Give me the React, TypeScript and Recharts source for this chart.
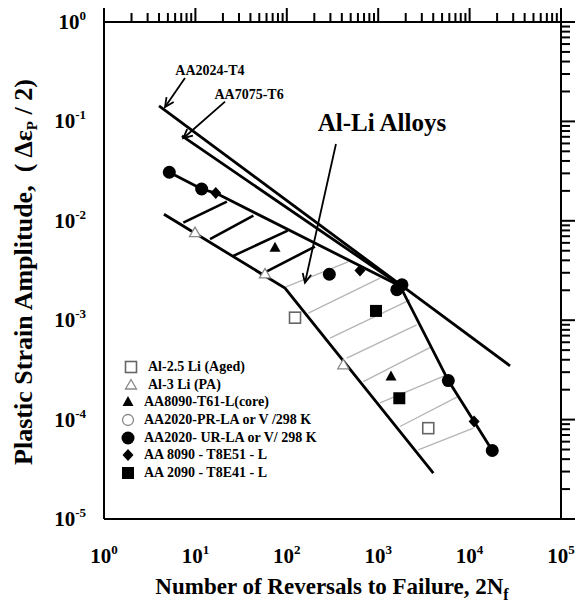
// Plastic strain amplitude vs. reversals to failure (Coffin-Manson) for
// Al-Li alloys compared with AA2024-T4 and AA7075-T6. Log-log axes with
// ticks on all four sides, hatched scatter band and annotation arrows.

import { ComposedChart, Line, Scatter, XAxis, YAxis, ReferenceLine, Legend } from 'recharts'

const FONT = '"Liberation Serif", "Times New Roman", serif'

// ---- axis ticks -------------------------------------------------------
const X_DECADES = [1, 10, 100, 1000, 10000, 100000]
const Y_DECADES = [1e-5, 1e-4, 1e-3, 1e-2, 1e-1, 1]
const MINOR_STEPS = [2, 3, 4, 5, 6, 7, 8, 9]

// ---- reference lines (x = 2Nf, y = Δεp/2) -----------------------------
const AA2024_T4 = [
  { x: 4.0, y: 0.143 },
  { x: 27700, y: 3.47e-4 },
]
const AA7075_T6 = [
  { x: 7.13, y: 0.0714 },
  { x: 1800, y: 2.2e-3 },
]
// upper edge of the Al-Li scatter band (goes through the UR-LA points)
const BAND_UPPER = [
  { x: 5.18, y: 0.0308 },
  { x: 11.7, y: 0.0209 },
  { x: 16.7, y: 0.019 },
  { x: 1733, y: 2.21e-3 },
  { x: 5850, y: 2.47e-4 },
  { x: 11200, y: 9.57e-5 },
  { x: 17700, y: 4.89e-5 },
]
const BAND_LOWER = [
  { x: 4.53, y: 0.01165 },
  { x: 95.5, y: 2.1e-3 },
  { x: 4010, y: 2.9e-5 },
]

// hatching inside the band: thick black (left) and thin grey (right)
const HATCH_BLACK = [
  [{ x: 7.38, y: 9.59e-3 }, { x: 22.1, y: 0.0156 }],
  [{ x: 14.45, y: 6.53e-3 }, { x: 43.1, y: 0.01127 }],
  [{ x: 26.0, y: 4.44e-3 }, { x: 102.3, y: 7.96e-3 }],
  [{ x: 50.9, y: 2.86e-3 }, { x: 203, y: 5.5e-3 }],
]
const HATCH_GREY = [
  [{ x: 98, y: 2.16e-3 }, { x: 468, y: 3.86e-3 }],
  [{ x: 172, y: 1.18e-3 }, { x: 1047, y: 2.65e-3 }],
  [{ x: 297, y: 6.61e-4 }, { x: 2228, y: 1.6e-3 }],
  [{ x: 452, y: 4.15e-4 }, { x: 2637, y: 8.98e-4 }],
  [{ x: 687, y: 2.41e-4 }, { x: 3849, y: 5.43e-4 }],
  [{ x: 1047, y: 1.47e-4 }, { x: 5615, y: 2.82e-4 }],
  [{ x: 1733, y: 8.53e-5 }, { x: 7521, y: 1.71e-4 }],
  [{ x: 2748, y: 4.97e-5 }, { x: 10990, y: 8.21e-5 }],
]

// ---- experimental points ----------------------------------------------
const AL25LI_AGED = [
  { x: 123, y: 1.06e-3 },
  { x: 3530, y: 8.2e-5 },
]
const AL3LI_PA = [
  { x: 9.9, y: 7.6e-3 },
  { x: 57.7, y: 2.92e-3 },
  { x: 415, y: 3.56e-4 },
]
const AA8090_T61 = [
  { x: 74.3, y: 5.37e-3 },
  { x: 1380, y: 2.71e-4 },
]
const AA2020_UR = [
  { x: 5.18, y: 0.0308 },
  { x: 11.7, y: 0.0209 },
  { x: 292, y: 2.9e-3 },
  { x: 1600, y: 2.03e-3 },
  { x: 1820, y: 2.27e-3 },
  { x: 5850, y: 2.47e-4 },
  { x: 17700, y: 4.89e-5 },
]
const AA8090_T8E51 = [
  { x: 16.7, y: 0.019 },
  { x: 632, y: 3.16e-3 },
  { x: 11200, y: 9.57e-5 },
]
const AA2090_T8E41 = [
  { x: 946, y: 1.24e-3 },
  { x: 1702, y: 1.64e-4 },
]

// ---- annotation arrows (start -> tip) ---------------------------------
const ARROW_2024 = [{ x: 7.69, y: 0.2735 }, { x: 4.65, y: 0.1397 }]
const ARROW_7075 = [{ x: 21.1, y: 0.158 }, { x: 7.37, y: 0.0677 }]
const ARROW_ALLI = [{ x: 345, y: 0.0593 }, { x: 158, y: 2.38e-3 }]

const LEGEND_ITEMS = [
  { name: 'Al-2.5 Li (Aged)', kind: 'openSquare' },
  { name: 'Al-3 Li (PA)', kind: 'openTriangle' },
  { name: 'AA8090-T61-L(core)', kind: 'triangle' },
  { name: 'AA2020-PR-LA or V /298 K', kind: 'openCircle' },
  { name: 'AA2020- UR-LA or V/ 298 K', kind: 'circle' },
  { name: 'AA 8090 - T8E51 - L', kind: 'diamond' },
  { name: 'AA 2090 - T8E41 - L', kind: 'square' },
]

function buildTicks(decades: number[]): number[] {
  const out: number[] = []
  decades.forEach((d, i) => {
    out.push(d)
    if (i < decades.length - 1) MINOR_STEPS.forEach((m) => out.push(m * d))
  })
  return out
}
const X_TICKS = buildTicks(X_DECADES)
const Y_TICKS = buildTicks(Y_DECADES)

function exponent(v: number): number | null {
  const e = Math.log10(v)
  const r = Math.round(e)
  return Math.abs(e - r) < 1e-6 ? r : null
}

function tickLen(v: number): number {
  return exponent(v) === null ? 9 : 14
}

function Mark({ kind, cx, cy }: { kind: string; cx: number; cy: number }) {
  switch (kind) {
    case 'circle':
      return <circle cx={cx} cy={cy} r={6.5} fill="#000" />
    case 'openCircle':
      return <circle cx={cx} cy={cy} r={5.5} fill="#fff" stroke="#888" strokeWidth={1.3} />
    case 'square':
      return <rect x={cx - 6} y={cy - 6} width={12} height={12} fill="#000" />
    case 'openSquare':
      return <rect x={cx - 5.5} y={cy - 5.5} width={11} height={11} fill="#fff" stroke="#666" strokeWidth={1.6} />
    case 'triangle':
      return <polygon points={`${cx},${cy - 6} ${cx + 5.5},${cy + 4} ${cx - 5.5},${cy + 4}`} fill="#000" />
    case 'openTriangle':
      return (
        <polygon
          points={`${cx},${cy - 5.5} ${cx + 5.5},${cy + 4} ${cx - 5.5},${cy + 4}`}
          fill="#fff"
          stroke="#888"
          strokeWidth={1.3}
        />
      )
    case 'diamond':
      return <polygon points={`${cx},${cy - 6} ${cx + 5.5},${cy} ${cx},${cy + 6} ${cx - 5.5},${cy}`} fill="#000" />
    default:
      return null
  }
}

const shapeOf = (kind: string) => (p: any) => <Mark kind={kind} cx={p.cx} cy={p.cy} />

function TickLabel({ x, y, e, anchor }: { x: number; y: number; e: number; anchor: 'middle' | 'end' }) {
  return (
    <text x={x} y={y} textAnchor={anchor} fontFamily={FONT} fontWeight="bold" fontSize={21} fill="#000">
      10
      <tspan dy={-9} fontSize={13}>
        {String(e)}
      </tspan>
    </text>
  )
}

// side: direction the tick points (outside of the frame)
function tickPath(side: string, x: number, y: number, len: number): string {
  if (side === 'bottom') return `M${x},${y}L${x},${y + len}`
  if (side === 'top') return `M${x},${y}L${x},${y - len}`
  if (side === 'left') return `M${x},${y}L${x - len},${y}`
  return `M${x},${y}L${x + len},${y}`
}

// tick mark only (used by the four frame axes)
function markTick(side: 'bottom' | 'top' | 'left' | 'right') {
  return (props: any) => {
    const x = Number(props.x)
    const y = Number(props.y)
    return <path d={tickPath(side, x, y, tickLen(props.payload.value))} stroke="#000" strokeWidth={2} fill="none" />
  }
}

// decade labels (used by the data axes)
function labelTick(side: 'bottom' | 'left') {
  return (props: any) => {
    const x = Number(props.x)
    const y = Number(props.y)
    const e = exponent(props.payload.value)
    if (e === null) return <g />
    return side === 'bottom' ? (
      <TickLabel x={x} y={y + 44} e={e} anchor="middle" />
    ) : (
      <TickLabel x={x - 18} y={y + 7} e={e} anchor="end" />
    )
  }
}

// arrow with open V head at the tip and its caption near the start
function arrowShape(caption: string, dx: number, dy: number, fontSize: number) {
  return (p: any) => {
    const { x1, y1, x2, y2 } = p
    const a = Math.atan2(y2 - y1, x2 - x1)
    const h = 10
    const w = 0.45
    return (
      <g>
        <line x1={x1} y1={y1} x2={x2} y2={y2} stroke="#000" strokeWidth={1.8} />
        <polyline
          points={`${x2 - h * Math.cos(a - w)},${y2 - h * Math.sin(a - w)} ${x2},${y2} ${x2 - h * Math.cos(a + w)},${y2 - h * Math.sin(a + w)}`}
          fill="none"
          stroke="#000"
          strokeWidth={1.8}
        />
        <text
          x={x1 + dx}
          y={y1 + dy}
          textAnchor="middle"
          fontFamily={FONT}
          fontWeight="bold"
          fontSize={fontSize}
          fill="#000"
        >
          {caption}
        </text>
      </g>
    )
  }
}

function LegendBox() {
  return (
    <div style={{ fontFamily: FONT, fontWeight: 'bold', fontSize: 14, color: '#000' }}>
      {LEGEND_ITEMS.map((it, i) => (
        <div key={it.name} style={{ display: 'flex', alignItems: 'center', height: 17.7, whiteSpace: 'nowrap' }}>
          <svg width={16} height={16} style={{ marginLeft: i < 2 ? 3 : 0 }}>
            <Mark kind={it.kind} cx={8} cy={8} />
          </svg>
          <span style={{ marginLeft: i < 2 ? 9 : 8 }}>{it.name}</span>
        </div>
      ))}
    </div>
  )
}

// axis titles, drawn on an overlay above the chart svg
function AxisTitles() {
  return (
    <svg
      width={577}
      height={608}
      style={{ position: 'absolute', left: 0, top: 0, pointerEvents: 'none' }}
    >
      <text x={332} y={594} textAnchor="middle" fontFamily={FONT} fontWeight="bold" fontSize={23} fill="#000">
        Number of Reversals to Failure, 2N
        <tspan dy={6} fontSize={16}>
          f
        </tspan>
      </text>
      <text
        x={32}
        y={272}
        transform="rotate(-90, 32, 272)"
        textAnchor="middle"
        fontFamily={FONT}
        fontWeight="bold"
        fontSize={26}
        fill="#000"
        style={{ whiteSpace: 'pre' }}
      >
        {'Plastic Strain Amplitude,  ( \u2206\u03b5'}
        <tspan dy={5} fontSize={15}>
          P
        </tspan>
        <tspan dy={-5}>{' / 2)'}</tspan>
      </text>
    </svg>
  )
}

const lineProps = {
  dataKey: 'y',
  dot: false,
  activeDot: false,
  type: 'linear' as const,
  isAnimationActive: false,
  legendType: 'none' as const,
}

const axisCommon = {
  type: 'number' as const,
  scale: 'log' as const,
  allowDataOverflow: true,
  interval: 0,
  tickSize: 0,
  tickMargin: 0,
  tickLine: false,
  axisLine: { stroke: '#000', strokeWidth: 2 },
}

export default function App() {
  return (
    <div style={{ position: 'absolute', left: 0, top: 0, width: 577, height: 608, background: '#fff' }}>
      <ComposedChart width={577} height={608} margin={{ top: 0, right: 0, bottom: 0, left: 0 }}>
        {/* frame axes carrying the outward tick marks (first = next to the plot) */}
        <XAxis
          {...axisCommon}
          xAxisId="bt"
          orientation="bottom"
          dataKey="x"
          domain={[1, 100000]}
          ticks={X_TICKS}
          height={0}
          tick={markTick('bottom')}
        />
        <YAxis
          {...axisCommon}
          yAxisId="lt"
          orientation="left"
          dataKey="y"
          domain={[1e-5, 1]}
          ticks={Y_TICKS}
          width={0}
          tick={markTick('left')}
        />
        <XAxis
          {...axisCommon}
          xAxisId="top"
          orientation="top"
          dataKey="x"
          domain={[1, 100000]}
          ticks={X_TICKS}
          height={22}
          tick={markTick('top')}
        />
        <YAxis
          {...axisCommon}
          yAxisId="right"
          orientation="right"
          dataKey="y"
          domain={[1e-5, 1]}
          ticks={Y_TICKS}
          width={16}
          tick={markTick('right')}
        />
        {/* data axes with the decade labels */}
        <XAxis
          {...axisCommon}
          dataKey="x"
          domain={[1, 100000]}
          ticks={X_TICKS}
          height={89}
          tick={labelTick('bottom')}
        />
        <YAxis
          {...axisCommon}
          dataKey="y"
          domain={[1e-5, 1]}
          ticks={Y_TICKS}
          width={104}
          tick={labelTick('left')}
        />

        {HATCH_GREY.map((seg, i) => (
          <Line key={`g${i}`} {...lineProps} data={seg} stroke="#b5b5b5" strokeWidth={1.3} />
        ))}
        {HATCH_BLACK.map((seg, i) => (
          <Line key={`b${i}`} {...lineProps} data={seg} stroke="#000" strokeWidth={2.6} />
        ))}
        <Line {...lineProps} data={BAND_LOWER} stroke="#000" strokeWidth={2.8} />
        <Line {...lineProps} data={BAND_UPPER} stroke="#000" strokeWidth={2.8} />
        <Line {...lineProps} data={AA2024_T4} stroke="#000" strokeWidth={2.8} />
        <Line {...lineProps} data={AA7075_T6} stroke="#000" strokeWidth={2.8} />

        <ReferenceLine segment={ARROW_2024} ifOverflow="visible" shape={arrowShape('AA2024-T4', 25, -3, 14)} />
        <ReferenceLine segment={ARROW_7075} ifOverflow="visible" shape={arrowShape('AA7075-T6', 24, -3, 14)} />
        <ReferenceLine segment={ARROW_ALLI} ifOverflow="visible" shape={arrowShape('Al-Li Alloys', 46, -13, 25)} />

        <Scatter data={AL25LI_AGED} dataKey="y" shape={shapeOf('openSquare')} isAnimationActive={false} legendType="none" />
        <Scatter data={AL3LI_PA} dataKey="y" shape={shapeOf('openTriangle')} isAnimationActive={false} legendType="none" />
        <Scatter data={AA8090_T61} dataKey="y" shape={shapeOf('triangle')} isAnimationActive={false} legendType="none" />
        <Scatter data={AA2020_UR} dataKey="y" shape={shapeOf('circle')} isAnimationActive={false} legendType="none" />
        <Scatter data={AA8090_T8E51} dataKey="y" shape={shapeOf('diamond')} isAnimationActive={false} legendType="none" />
        <Scatter data={AA2090_T8E41} dataKey="y" shape={shapeOf('square')} isAnimationActive={false} legendType="none" />

        <Legend
          layout="vertical"
          align="center"
          verticalAlign="middle"
          content={<LegendBox />}
          wrapperStyle={{ left: 120, top: 358, width: 'auto' }}
        />
      </ComposedChart>
      <AxisTitles />
    </div>
  )
}
